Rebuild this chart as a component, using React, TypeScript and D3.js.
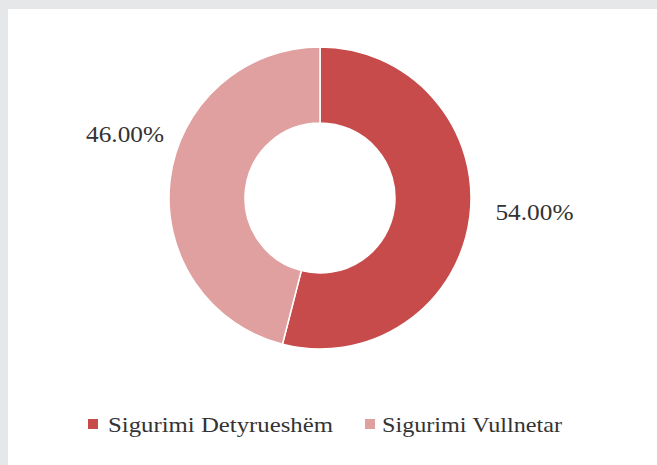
import React from "react";
import * as d3 from "d3";

const categories = ["Sigurimi Detyrueshëm", "Sigurimi Vullnetar"];
const values = [54, 46];
const valueLabels = ["54.00%", "46.00%"];
const colors = ["#c84b4b", "#e0a09f"];

const W = 657;
const H = 465;
const cx = 320;
const cy = 198;
const outerR = 151;
const innerR = 75;

const FONT = '"Liberation Serif", "Times New Roman", Tinos, "DejaVu Serif", serif';

// label placement: angle (deg, clockwise from top) and radius for each label
const labelAngleDeg = [94, 288];
const labelRadius = [215, 205];

export default function App() {
  const pie = d3
    .pie<number>()
    .sort(null)
    .startAngle(0)
    .endAngle(2 * Math.PI)
    .value((d) => d);
  const arcs = pie(values);
  const arc = d3.arc<d3.PieArcDatum<number>>().innerRadius(innerR).outerRadius(outerR);

  const legendItems = [
    { x: 88, textX: 108, textLen: 225 },
    { x: 365, textX: 382, textLen: 180 },
  ];

  return (
    <svg
      width={W}
      height={H}
      style={{ position: "fixed", left: 0, top: 0, display: "block", fontFamily: FONT }}
    >
      <rect x={0} y={0} width={W} height={H} fill="#e6e7e8" />
      <rect x={8} y={9} width={W - 8} height={H - 9} fill="#ffffff" />
      <g transform={`translate(${cx},${cy})`}>
        {arcs.map((a, i) => (
          <path key={i} d={arc(a) || ""} fill={colors[i]} stroke="#ffffff" strokeWidth={1.5} />
        ))}
        {arcs.map((a, i) => {
          const ang = (labelAngleDeg[i] * Math.PI) / 180;
          const x = Math.sin(ang) * labelRadius[i];
          const y = -Math.cos(ang) * labelRadius[i];
          return (
            <text
              key={"l" + i}
              x={x}
              y={y}
              textAnchor="middle"
              dominantBaseline="central"
              fontSize={23}
              fill="#333333"
              style={{ fontFamily: FONT }}
              textLength={78}
              lengthAdjust="spacingAndGlyphs"
            >
              {valueLabels[i]}
            </text>
          );
        })}
      </g>
      {categories.map((c, i) => (
        <g key={"lg" + i}>
          <rect x={legendItems[i].x} y={419} width={10} height={10} fill={colors[i]} />
          <text
            x={legendItems[i].textX}
            y={432}
            fontSize={22}
            fill="#333333"
            style={{ fontFamily: FONT }}
            textLength={legendItems[i].textLen}
            lengthAdjust="spacingAndGlyphs"
          >
            {c}
          </text>
        </g>
      ))}
    </svg>
  );
}
